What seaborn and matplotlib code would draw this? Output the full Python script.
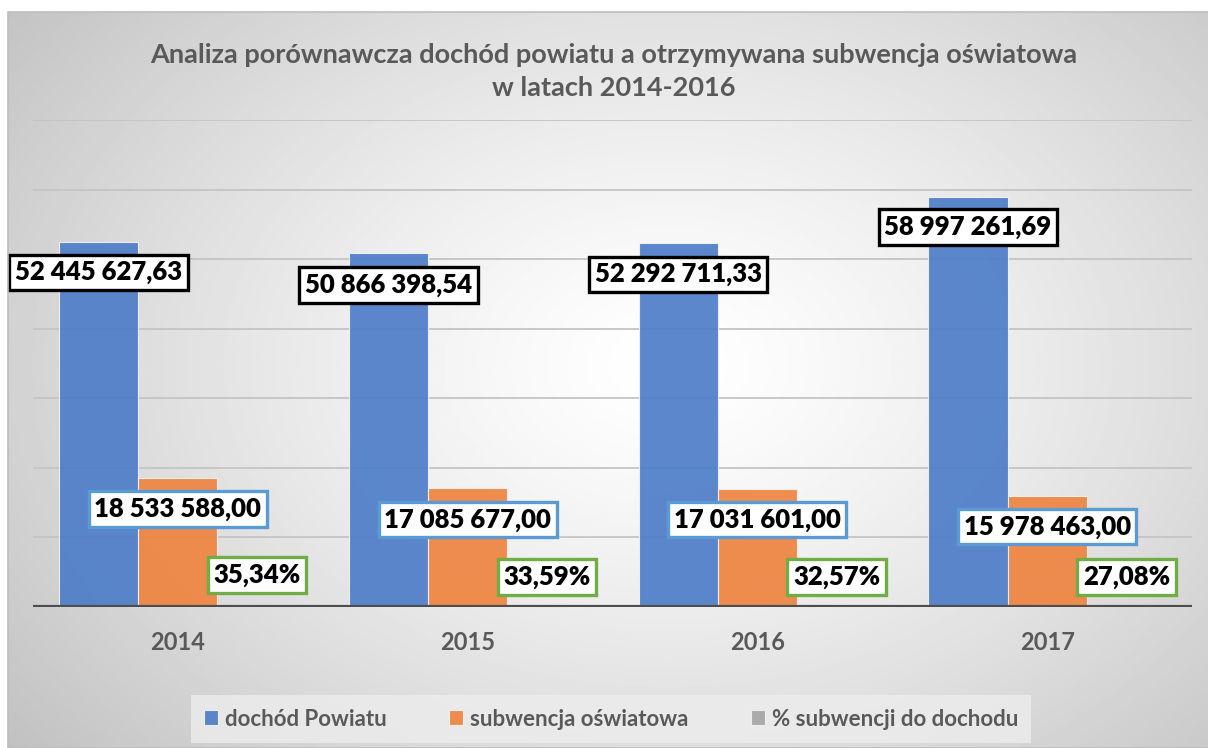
import numpy as np
import pandas as pd
import matplotlib.pyplot as plt
import seaborn as sns

years = ["2014", "2015", "2016", "2017"]
dochod = [52445627.63, 50866398.54, 52292711.33, 58997261.69]
subwencja = [18533588.00, 17085677.00, 17031601.00, 15978463.00]
procent = [0.3534, 0.3359, 0.3257, 0.2708]
series = ["dochód Powiatu", "subwencja oświatowa", "% subwencji do dochodu"]

COLORS = ["#4E7DC9", "#EE8440", "#A5A5A5"]
TXT = "#595959"

# label centres (in zł) - the labels were dragged by hand in the original
lbl_y_dochod = [48.1e6, 46.3e6, 47.8e6, 54.6e6]
lbl_y_sub = [14.1e6, 12.55e6, 12.55e6, 11.55e6]
lbl_y_pct = [4.6e6, 4.3e6, 4.3e6, 4.3e6]

sns.set_style("white")
plt.rcParams["font.family"] = ["Lato", "DejaVu Sans"]

W, H = 1208, 748
fig = plt.figure(figsize=(W / 100, H / 100), dpi=100)

# radial gradient background of the chart area
bg = fig.add_axes([8 / W, 0, 1 - 8 / W, 1 - 12 / H])
gx, gy = np.meshgrid(np.linspace(0, 1, 600), np.linspace(0, 1, 400))
r = np.sqrt(((gx - 0.55) / 0.72) ** 2 + ((gy - 0.52) / 0.85) ** 2)
shade = 1 - 0.25 * np.clip(r, 0, 1) ** 1.3
bg.imshow(shade, cmap="gray", vmin=0, vmax=1, aspect="auto",
          extent=[0, 1, 0, 1], origin="lower")
bg.set_axis_off()
fig.patches.append(plt.Rectangle((8 / W, 0), 1, 1 - 12 / H, transform=fig.transFigure,
                                 fill=False, edgecolor="#bdbdbd", lw=1.2))

df = pd.DataFrame({
    "rok": years * 3,
    "seria": [series[0]] * 4 + [series[1]] * 4 + [series[2]] * 4,
    "wartosc": dochod + subwencja + procent,
})

ax = fig.add_axes([33 / W, (H - 607) / H, (1192 - 33) / W, (607 - 120) / H])
ax.set_facecolor("none")
sns.barplot(data=df, x="rok", y="wartosc", hue="seria", palette=COLORS,
            saturation=1, width=0.82, ax=ax, edgecolor="#f2f2f2",
            linewidth=0.8, alpha=0.92, zorder=2)
ax.set_ylim(0, 70e6)
ax.set_xlim(-0.5, 3.5)
ax.set_yticks(np.arange(0, 70e6 + 1, 10e6))
ax.yaxis.grid(True, color="#c4c4c4", lw=1.3, zorder=0)
ax.set_axisbelow(True)
ax.tick_params(left=False, bottom=False, labelleft=False)
ax.set_xlabel("")
ax.set_ylabel("")
for s in ax.spines.values():
    s.set_visible(False)
ax.axhline(0, color="#4d4d4d", lw=3, zorder=3)
for lab in ax.get_xticklabels():
    lab.set_fontsize(17)
    lab.set_fontweight("bold")
    lab.set_color(TXT)
ax.tick_params(axis="x", pad=14)


def fmt_money(v):
    return f"{v:,.2f}".replace(",", " ").replace(".", ",")


def fmt_pct(p):
    return f"{p * 100:.2f}%".replace(".", ",")


label_sets = [
    ([fmt_money(v) for v in dochod], lbl_y_dochod, "black"),
    ([fmt_money(v) for v in subwencja], lbl_y_sub, "#5B9BD5"),
    ([fmt_pct(p) for p in procent], lbl_y_pct, "#70AD47"),
]
for cont, (texts, ys, edge) in zip(ax.containers, label_sets):
    for bar, t, y in zip(cont, texts, ys):
        xc = bar.get_x() + bar.get_width() / 2
        ax.text(xc, y, t, ha="center", va="center", fontsize=18.5,
                fontweight="heavy", color="black", zorder=5,
                bbox=dict(boxstyle="square,pad=0.22", facecolor="white",
                          edgecolor=edge, lw=2.4))

handles, labels = ax.get_legend_handles_labels()
ax.get_legend().remove()
leg = fig.legend(handles, labels, loc="center", bbox_to_anchor=(611 / W, 1 - 719 / H),
                 ncol=3, frameon=True, fancybox=False, facecolor="#ededed",
                 edgecolor="none", framealpha=0.8, handlelength=0.65, handleheight=0.65,
                 handletextpad=0.3, columnspacing=2.8, borderpad=0.6,
                 prop={"size": 16, "weight": "bold"})
for t in leg.get_texts():
    t.set_color(TXT)
leg.set_zorder(6)

fig.text(614 / W, 1 - 55 / H, "Analiza porównawcza dochód powiatu a otrzymywana subwencja oświatowa",
         ha="center", va="center", fontsize=19.5, fontweight="bold", color=TXT)
fig.text(614 / W, 1 - 88 / H, "w latach 2014-2016",
         ha="center", va="center", fontsize=19.5, fontweight="bold", color=TXT)

fig.savefig("out.png", dpi=100)
